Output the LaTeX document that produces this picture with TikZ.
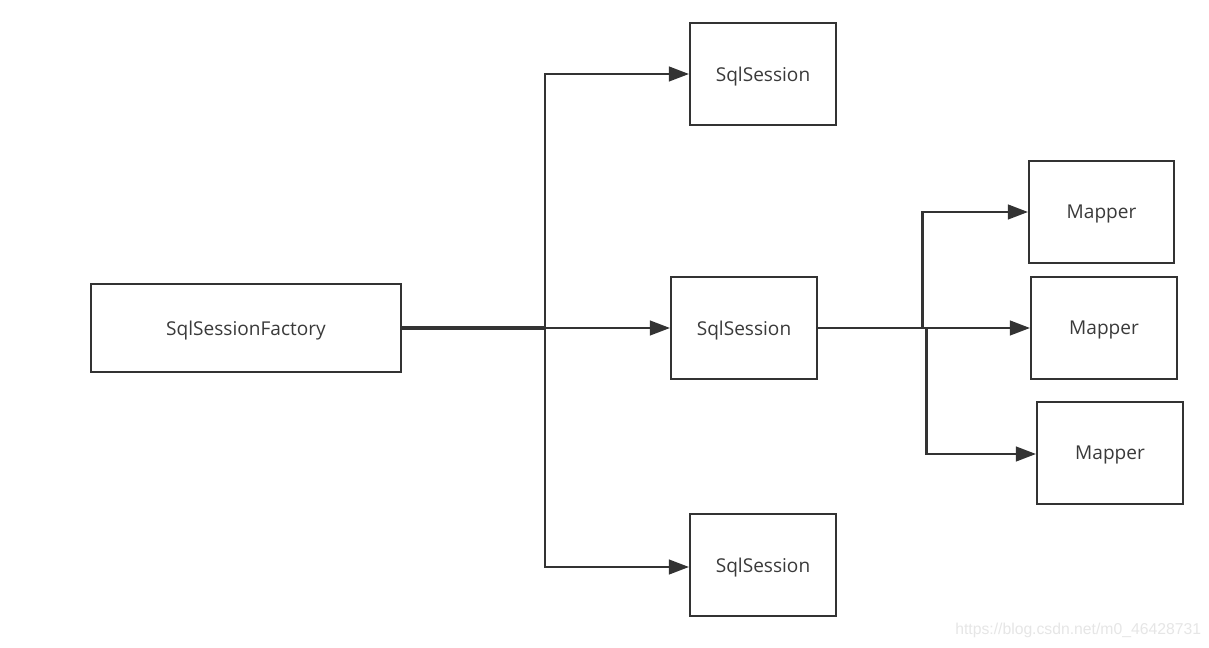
\documentclass[tikz,border=0pt]{standalone}
\usepackage{fontspec}
\setmainfont{Open Sans}
\newfontfamily\wmfont{Liberation Sans}
\usetikzlibrary{arrows.meta}
\definecolor{ln}{HTML}{333333}
\definecolor{tx}{HTML}{3A3A3A}
\definecolor{wm}{HTML}{E6E6E6}
\tikzset{
  box/.style={draw=ln, line width=1.6pt, fill=white, inner sep=0pt, text=tx, text depth=0pt, font=\fontsize{14.3}{17}\selectfont},
  conn/.style={draw=ln, line width=1.6pt},
  arr/.style={conn, -{Triangle[length=15pt, width=11pt]}},
}
\begin{document}
\begin{tikzpicture}[x=0.75pt, y=-0.75pt]
\useasboundingbox (0,0) rectangle (1209,648);
\fill[white] (0,0) rectangle (1209,648);
% boxes
\node[box, minimum width=310*0.75pt, minimum height=88*0.75pt] (fac) at (246,328) {SqlSessionFactory};
\node[box, minimum width=146*0.75pt, minimum height=102*0.75pt] (s1) at (763,74) {SqlSession};
\node[box, minimum width=146*0.75pt, minimum height=102*0.75pt] (s2) at (744,328) {SqlSession};
\node[box, minimum width=146*0.75pt, minimum height=102*0.75pt] (s3) at (763,565) {SqlSession};
\node[box, minimum width=145*0.75pt, minimum height=102*0.75pt] (m1) at (1101.5,212) {Mapper};
\node[box, minimum width=146*0.75pt, minimum height=102*0.75pt] (m2) at (1104,328) {Mapper};
\node[box, minimum width=146*0.75pt, minimum height=102*0.75pt] (m3) at (1110,453) {Mapper};
% junctions
\coordinate (ja) at (545,328);
\coordinate (jb) at (922.5,328);
\coordinate (jc) at (926.5,328);
% factory connectors
\draw[conn, line width=2.4pt] (fac.east) -- (ja);
\draw[arr] (ja) |- (s1.west |- 0,74);
\draw[arr] (ja) -- (s2.west);
\draw[arr] (ja) |- (s3.west |- 0,567);
% session connectors
\draw[conn, line width=2.2pt] (s2.east) -- (jc);
\draw[arr] (jb) |- (m1.west);
\draw[arr] (jc) -- (m2.west);
\draw[arr] (jc) |- (m3.west |- 0,454);
% watermark
\node[anchor=west, text=wm, font=\wmfont\fontsize{11.8}{14}\selectfont, inner sep=0pt] (wmk) at (955,630) {https://blog.csdn.net/m0\_46428731};
\end{tikzpicture}
\end{document}
